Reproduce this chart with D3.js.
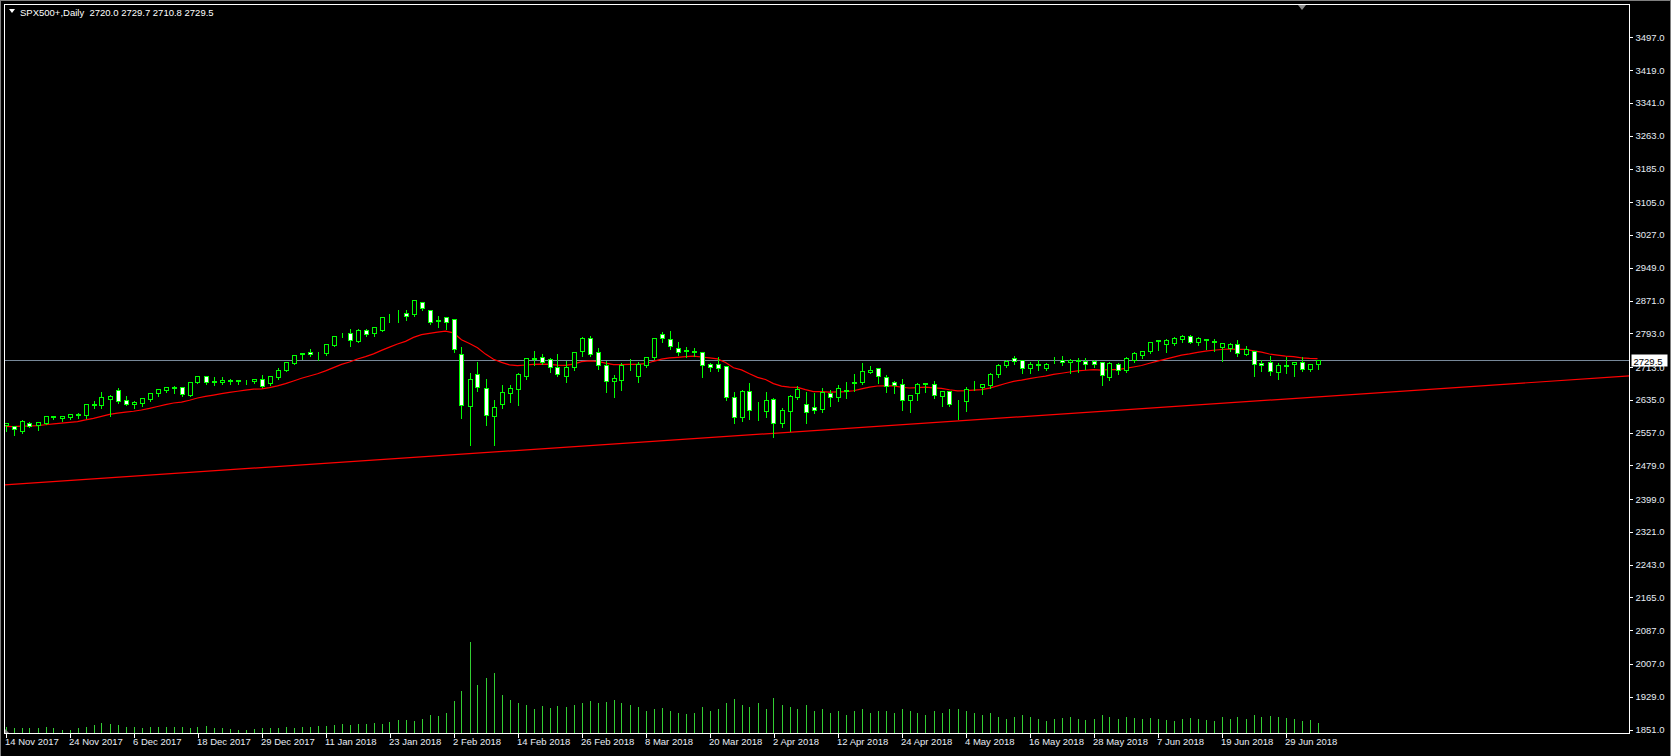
<!DOCTYPE html>
<html><head><meta charset="utf-8">
<script src="https://cdn.jsdelivr.net/npm/d3@7"></script>
<style>html,body{margin:0;padding:0;background:#000;overflow:hidden}svg{display:block}</style>
</head><body>
<svg id="chart" width="1671" height="756"></svg>
<script>
// ---------------- data ----------------
const symbolTitle = "SPX500+,Daily";
const lastBar = "2720.0 2729.7 2710.8 2729.5";
const opens = [2576,2573,2561,2581,2576,2580,2593,2592,2594,2600,2600,2623,2623,2638,2658,2634,2626,2628,2637,2650,
2659,2663,2665,2647,2678,2691,2680,2677,2680,2680,2681,2679,2684,2675,2690,2707,2723,2745,2749,2748,
2747,2766,2791,2793,2776,2800,2795,2802,2832,2836,2841,2839,2868,2848,2823,2831,2826,2743,2621,2696,
2662,2597,2626,2652,2661,2692,2733,2736,2731,2712,2692,2712,2752,2783,2748,2717,2679,2683,2722,2692,
2718,2736,2791,2779,2757,2751,2749,2748,2720,2719,2715,2641,2595,2657,2605,2609,2636,2581,2609,2642,
2625,2617,2613,2650,2641,2657,2675,2678,2702,2710,2690,2678,2672,2634,2650,2673,2672,2645,2655,2631,
2633,2668,2666,2671,2696,2717,2734,2729,2710,2718,2710,2731,2729,2724,2728,2727,2727,2724,2690,2719,
2705,2729,2742,2750,2776,2768,2771,2780,2786,2773,2778,2776,2760,2759,2767,2745,2750,2722,2724,2700,
2716,2719,2724,2708,2720.0];
const highs = [2582,2576,2589,2584,2584,2599,2598,2600,2604,2607,2627,2634,2656,2649,2665,2646,2634,2641,2654,2663,
2668,2670,2667,2679,2693,2693,2691,2691,2687,2685,2685,2687,2696,2693,2712,2727,2743,2747,2758,2751,
2769,2788,2796,2805,2805,2805,2811,2834,2841,2850,2850,2874,2871,2851,2837,2834,2829,2764,2701,2727,
2687,2637,2673,2673,2701,2736,2753,2746,2737,2746,2729,2750,2786,2788,2760,2729,2696,2726,2734,2728,
2738,2784,2798,2800,2776,2762,2760,2752,2725,2738,2716,2655,2661,2677,2631,2657,2641,2617,2649,2670,
2657,2654,2666,2660,2673,2680,2698,2724,2718,2711,2696,2682,2687,2648,2678,2676,2682,2658,2658,2637,
2669,2682,2676,2701,2723,2731,2741,2731,2727,2731,2724,2739,2742,2734,2736,2736,2732,2726,2728,2726,
2738,2750,2753,2775,2780,2781,2787,2791,2791,2787,2781,2781,2773,2773,2780,2765,2753,2732,2742,2726,
2740,2726,2738,2722,2729.7];
const lows = [2564,2554,2559,2572,2566,2579,2591,2588,2592,2594,2595,2617,2619,2600,2630,2625,2619,2623,2635,2647,
2657,2654,2646,2646,2677,2676,2673,2675,2676,2676,2676,2677,2667,2673,2688,2705,2722,2735,2741,2733,
2745,2765,2787,2766,2775,2789,2788,2801,2823,2823,2828,2836,2851,2817,2811,2806,2752,2595,2531,2658,
2578,2531,2619,2632,2626,2687,2721,2722,2704,2693,2680,2709,2741,2742,2711,2657,2645,2661,2709,2680,
2716,2734,2776,2758,2744,2738,2742,2692,2707,2707,2637,2583,2588,2592,2590,2597,2550,2572,2563,2640,
2583,2607,2609,2623,2634,2642,2658,2676,2700,2678,2656,2654,2613,2609,2638,2657,2642,2623,2623,2592,
2611,2660,2652,2666,2692,2715,2723,2700,2702,2708,2708,2724,2719,2702,2703,2711,2716,2673,2685,2698,
2703,2727,2737,2748,2756,2750,2768,2775,2772,2768,2759,2753,2730,2753,2742,2743,2694,2706,2696,2688,
2702,2694,2706,2706,2710.8];
const closes = [2581,2565,2585,2573,2582,2596,2596,2596,2601,2601,2625,2624,2642,2644,2633,2626,2629,2639,2651,2661,
2665,2665,2648,2677,2691,2678,2678,2682,2681,2681,2682,2684,2668,2691,2707,2724,2741,2746,2743,2749,
2767,2786,2792,2778,2800,2792,2807,2832,2833,2837,2835,2872,2853,2819,2824,2821,2755,2622,2684,2666,
2598,2617,2653,2662,2696,2734,2734,2726,2714,2697,2712,2748,2783,2745,2717,2679,2688,2717,2723,2721,
2736,2781,2781,2762,2749,2753,2751,2717,2714,2711,2642,2593,2657,2610,2607,2634,2581,2610,2644,2660,
2605,2611,2654,2641,2662,2658,2677,2703,2707,2691,2669,2670,2634,2646,2672,2675,2646,2655,2626,2632,
2661,2669,2673,2696,2718,2727,2728,2710,2719,2719,2719,2733,2724,2729,2730,2719,2721,2693,2722,2706,
2734,2746,2751,2772,2777,2777,2781,2786,2773,2781,2780,2772,2771,2767,2746,2755,2719,2717,2703,2717,
2718,2724,2709,2720,2729.5];
const volumes = [6,5,5,5,5,6,5,3,3,5, 6,8,10,9,8,6,6,5,6,6, 6,6,6,5,6,7,5,5,4,3,
3,4,5,5,5,6,5,6,6,7, 7,8,9,8,9,9,10,9,11,13, 13,12,14,18,17,20,32,42,91,48,
55,60,38,33,30,28,24,27,25,27, 26,28,30,32,30,31,33,30,28,26, 22,24,25,22,20,19,20,26,22,24,
30,34,28,26,30,24,35,28,26,24, 28,22,24,20,22,18,22,24,20,22, 22,20,24,22,20,18,22,20,24,24,
22,20,18,20,16,14,16,18,16,14, 12,14,15,16,14,13,14,18,16,14, 16,15,14,15,14,13,12,14,15,14,
13,12,16,14,16,14,18,16,17,16, 15,14,12,13,10];
const timeLabels = ["14 Nov 2017","24 Nov 2017","6 Dec 2017","18 Dec 2017","29 Dec 2017","11 Jan 2018",
"23 Jan 2018","2 Feb 2018","14 Feb 2018","26 Feb 2018","8 Mar 2018","20 Mar 2018","2 Apr 2018",
"12 Apr 2018","24 Apr 2018","4 May 2018","16 May 2018","28 May 2018","7 Jun 2018","19 Jun 2018","29 Jun 2018"];
const barsPerLabel = 8;
const priceTicks = [3497,3419,3341,3263,3185,3105,3027,2949,2871,2793,2713,2635,2557,2479,2399,2321,2243,2165,2087,2007,1929,1851];
const bidPrice = 2729.5;
const maPeriod = 20;          // exponential moving average of closes
const maStart = 2572;         // MA value at first visible bar
const trendBars = [0, 164];   // trend line anchors
const trendPrices = [2433, 2642];

// ---------------- layout ----------------
const W = 1671, H = 756;
const L = 4.5, T = 4.5, R = 1629.5, B = 733.5;
const svg = d3.select("#chart");
svg.append("rect").attr("width",W).attr("height",H).attr("fill","#000");
// window border
svg.append("rect").attr("x",0.5).attr("y",0.5).attr("width",W-1).attr("height",H+5)
  .attr("fill","none").attr("stroke","#7f7f7f");

const n = closes.length;
const x = d3.scaleLinear().domain([0, n-1]).range([5.5, 5.5 + 8*(n-1)]);
const y = d3.scaleLinear().domain([1851, 3497]).range([729.5, 37.3]);
const vmax = d3.max(volumes);
const vy = d3.scaleLinear().domain([0, vmax]).range([B-0.5, B-0.5-91]);

const plot = svg.append("g");
svg.append("clipPath").attr("id","clip").append("rect")
  .attr("x",L).attr("y",T).attr("width",R-L).attr("height",B-T);
const g = plot.append("g").attr("clip-path","url(#clip)");

const px = i => Math.round(x(i)) + 0.5;
const py = v => Math.round(y(v)) + 0.5;

// volumes
g.append("g").selectAll("line").data(volumes).join("line")
  .attr("x1",(d,i)=>px(i)).attr("x2",(d,i)=>px(i))
  .attr("y1",B).attr("y2",d=>Math.round(vy(d)))
  .attr("stroke","#32cd32").attr("stroke-width",1).attr("shape-rendering","crispEdges");

// trend line
const slope = (trendPrices[1]-trendPrices[0])/(trendBars[1]-trendBars[0]);
const tp = b => trendPrices[0] + slope*(b - trendBars[0]);
const bL = x.invert(L), bR = x.invert(R);
g.append("line").attr("x1",L).attr("x2",R).attr("y1",y(tp(bL))).attr("y2",y(tp(bR)))
  .attr("stroke","#ff0000").attr("stroke-width",1.2);

// bid line
g.append("line").attr("x1",L).attr("x2",R).attr("y1",py(bidPrice)).attr("y2",py(bidPrice))
  .attr("stroke","#778899").attr("stroke-width",1).attr("shape-rendering","crispEdges");

// moving average
const k = 2/(maPeriod+1);
const ma = [];
closes.forEach((c,i)=>{ ma.push(i===0 ? maStart : ma[i-1] + k*(c - ma[i-1])); });
g.append("path").datum(ma)
  .attr("d", d3.line().x((d,i)=>x(i)).y(d=>y(d)))
  .attr("fill","none").attr("stroke","#ff0000").attr("stroke-width",1.2);

// candles
const cg = g.append("g").attr("shape-rendering","crispEdges");
const idx = d3.range(n);
cg.selectAll("line.w").data(idx).join("line").attr("class","w")
  .attr("x1",i=>px(i)).attr("x2",i=>px(i))
  .attr("y1",i=>py(highs[i])).attr("y2",i=>py(lows[i])+1)
  .attr("stroke","#00ff00");
cg.selectAll("rect.b").data(idx).join("rect").attr("class","b")
  .attr("x",i=>px(i)-2).attr("width",4)
  .attr("y",i=>py(Math.max(opens[i],closes[i])))
  .attr("height",i=>Math.max(0, py(Math.min(opens[i],closes[i])) - py(Math.max(opens[i],closes[i]))))
  .attr("fill",i=>closes[i] >= opens[i] ? "#000" : "#fff")
  .attr("stroke","#00ff00").attr("stroke-width",1);

// frame
svg.append("rect").attr("x",L).attr("y",T).attr("width",R-L).attr("height",B-T)
  .attr("fill","none").attr("stroke","#fff").attr("shape-rendering","crispEdges");

// price axis
const ya = svg.append("g").attr("transform",`translate(${R},0)`)
  .call(d3.axisRight(y).tickValues(priceTicks).tickSize(3).tickPadding(3).tickFormat(d=>d.toFixed(1)));
ya.select(".domain").remove();
ya.selectAll("line").attr("stroke","#fff").attr("shape-rendering","crispEdges");
ya.selectAll("text").attr("fill","#e6ecf4").attr("font-family","'Liberation Sans', Arial, sans-serif").attr("font-size","9.5px");

// bid label
const by = py(bidPrice);
svg.append("rect").attr("x",R+2).attr("y",by-6).attr("width",36).attr("height",12).attr("fill","#fff");
svg.append("text").attr("x",R+4).attr("y",by+4).text(bidPrice.toFixed(1))
  .attr("fill","#000").attr("font-family","'Liberation Sans', Arial, sans-serif").attr("font-size","9.5px");

// time axis
const tickIdx = timeLabels.map((t,i)=>i*barsPerLabel);
const xa = svg.append("g").attr("transform",`translate(0,${B})`)
  .call(d3.axisBottom(x).tickValues(tickIdx).tickSize(4).tickFormat((d,i)=>timeLabels[i]));
xa.select(".domain").remove();
xa.selectAll("line").attr("stroke","#fff").attr("transform","translate(0.5,0)").attr("shape-rendering","crispEdges");
xa.selectAll("text").attr("fill","#e6ecf4").attr("text-anchor","start").attr("dx","-1").attr("dy","0.45em")
  .attr("font-family","'Liberation Sans', Arial, sans-serif").attr("font-size","9.5px");

// header
svg.append("path").attr("d","M9,9 L15,9 L12,13 Z").attr("fill","#fff");
svg.append("text").attr("x",20).attr("y",16).attr("fill","#fff")
  .attr("font-family","'Liberation Sans', Arial, sans-serif").attr("font-size","9.5px")
  .attr("xml:space","preserve").text(symbolTitle + "  " + lastBar);

// chart-shift marker and scale marker
svg.append("path").attr("d","M1298,5 L1306,5 L1302,10 Z").attr("fill","#8c8c8c");
svg.append("path").attr("d","M5,729 L5,733 L9,733 Z").attr("fill","#8c8c8c");
</script>
</body></html>
